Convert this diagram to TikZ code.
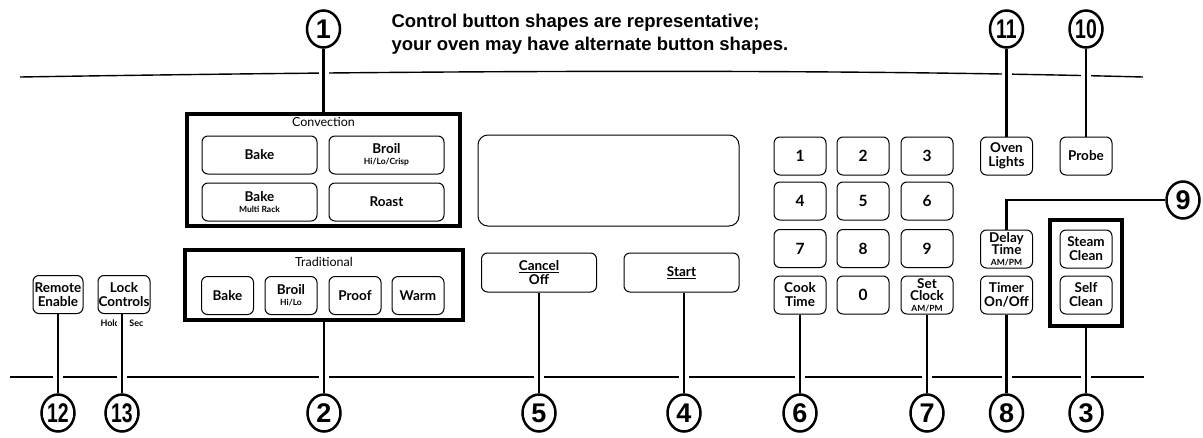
\documentclass[tikz,border=0pt]{standalone}
\usepackage{fontspec}
\setmainfont{Liberation Sans}
\newfontfamily\btnfont{Lato}
\usetikzlibrary{shapes}
\pgfdeclarelayer{bg}
\pgfdeclarelayer{mid}
\pgfsetlayers{bg,mid,main}
\newcommand{\sublbl}[1]{{\fontsize{8.5}{9}\selectfont #1}}
\newcommand{\twodig}[1]{\scalebox{0.72}[1]{#1}}

\begin{document}
\begin{tikzpicture}[x=1pt,y=-1pt]
	\tikzstyle{btn}=[draw,line width=1pt,rounded corners=6pt,fill=white,align=center,inner sep=0pt,minimum width=52pt,minimum height=38pt,font=\btnfont\bfseries\fontsize{13.5}{14}\selectfont]
	\tikzstyle{widebtn}=[btn,minimum width=115pt]
	\tikzstyle{digit}=[btn,font=\btnfont\bfseries\fontsize{15.5}{16}\selectfont]
	\tikzstyle{grpbox}=[draw,line width=3.5pt,fill=white,inner sep=0pt]
	\tikzstyle{grplbl}=[font=\btnfont\fontsize{12.5}{13}\selectfont]
	\tikzstyle{callout}=[ellipse,draw,line width=2.5pt,fill=white,minimum width=33pt,minimum height=37pt,inner sep=0pt,font=\bfseries\fontsize{27}{27}\selectfont]
	\tikzstyle{rule}=[line width=1.4pt]
	\tikzstyle{lead}=[line width=2.5pt,preaction={draw=white,line width=10pt}]
	\useasboundingbox (0,0) rectangle (1203,437);
	\begin{pgfonlayer}{bg}
		\draw[rule] (20,77) .. controls (400,71) and (800,68) .. (1143,77);
		\draw[rule] (10,377) -- (1144,377);
		\node[font=\btnfont\bfseries\fontsize{9}{9}\selectfont] (hold) at (122,323) {Hold 3 Sec};
	\end{pgfonlayer}
	\node[anchor=west,align=left,font=\bfseries\fontsize{18.5}{23}\selectfont] (note) at (388,34) {Control button shapes are representative;\\your oven may have alternate button shapes.};
	% convection group
	\node[grpbox,minimum width=273pt,minimum height=112pt] (conv) at (323.5,170) {};
	\node[grplbl] (convlbl) at (323.5,122) {Convection};
	\node[widebtn] (cbake) at (259.5,155) {Bake};
	\node[widebtn] (cbroil) at (386.5,155) {Broil\\[-3pt]\sublbl{Hi/Lo/Crisp}};
	\node[widebtn] (cmulti) at (259.5,202) {Bake\\[-3pt]\sublbl{Multi Rack}};
	\node[widebtn] (croast) at (386.5,202) {Roast};
	% traditional group
	\node[grpbox,minimum width=278pt,minimum height=70pt] (trad) at (324,285) {};
	\node[grplbl] (tradlbl) at (324,262) {Traditional};
	\node[btn] (tbake) at (227.5,295.5) {Bake};
	\node[btn] (tbroil) at (291,295.5) {Broil\\[-3pt]\sublbl{Hi/Lo}};
	\node[btn] (tproof) at (355,295.5) {Proof};
	\node[btn] (twarm) at (418,295.5) {Warm};
	% left
	\node[btn,minimum width=50pt] (remote) at (58,294.5) {Remote\\Enable};
	\node[btn] (lock) at (124,294.5) {Lock\\Controls};
	% display and keypad
	\node[btn,rounded corners=10pt,minimum width=261pt,minimum height=91pt] (disp) at (608.5,180.5) {};
	\node[widebtn,minimum height=39pt] (cancel) at (539,272.5) {\underline{Cancel}\\Off};
	\node[widebtn,minimum height=39pt] (start) at (681.5,272.5) {\underline{Start}};
	\node[digit] (k1) at (800,156) {1};
	\node[digit] (k2) at (863,156) {2};
	\node[digit] (k3) at (927,156) {3};
	\node[digit] (k4) at (800,201) {4};
	\node[digit] (k5) at (863,201) {5};
	\node[digit] (k6) at (927,201) {6};
	\node[digit] (k7) at (800,248.5) {7};
	\node[digit] (k8) at (863,248.5) {8};
	\node[digit] (k9) at (927,248.5) {9};
	\node[btn] (cook) at (800,295) {Cook\\Time};
	\node[digit] (k0) at (863,295) {0};
	\node[btn] (setclk) at (927,295) {Set\\[-2pt]Clock\\[-3pt]\sublbl{AM/PM}};
	% right
	\node[btn] (lights) at (1006.5,156) {Oven\\Lights};
	\node[btn] (probe) at (1086,156) {Probe};
	\node[btn] (delay) at (1006.5,249) {Delay\\[-2pt]Time\\[-3pt]\sublbl{AM/PM}};
	\node[btn] (timer) at (1006.5,295) {Timer\\On/Off};
	\node[grpbox,minimum width=72pt,minimum height=106pt] (clean) at (1086,273) {};
	\node[btn] (steam) at (1086,249) {Steam\\Clean};
	\node[btn] (self) at (1086,295) {Self\\Clean};
	% callouts
	\node[callout] (c1) at (323.5,29) {1};
	\node[callout] (c11) at (1006.5,29) {\twodig{11}};
	\node[callout] (c10) at (1086,29) {\twodig{10}};
	\node[callout] (c9) at (1183,200) {9};
	\node[callout] (c12) at (58,413) {\twodig{12}};
	\node[callout] (c13) at (122,413) {\twodig{13}};
	\node[callout] (c2) at (324,413) {2};
	\node[callout] (c5) at (539,413) {5};
	\node[callout] (c4) at (684,413) {4};
	\node[callout] (c6) at (800,413) {6};
	\node[callout] (c7) at (927,413) {7};
	\node[callout] (c8) at (1006.5,413) {8};
	\node[callout] (c3) at (1086,413) {3};
	\begin{pgfonlayer}{mid}
		\draw[lead] (c1) -- (conv);
		\draw[lead] (c11) -- (lights);
		\draw[lead] (c10) -- (probe);
		\draw[lead] (delay.north) |- (c9);
		\draw[lead] (remote) -- (c12);
		\draw[lead] (c13 |- lock.south) -- (c13);
		\draw[lead] (trad) -- (c2);
		\draw[lead] (cancel) -- (c5);
		\draw[lead] (c4 |- start.south) -- (c4);
		\draw[lead] (cook) -- (c6);
		\draw[lead] (setclk) -- (c7);
		\draw[lead] (timer) -- (c8);
		\draw[lead] (clean) -- (c3);
	\end{pgfonlayer}
\end{tikzpicture}
\end{document}
